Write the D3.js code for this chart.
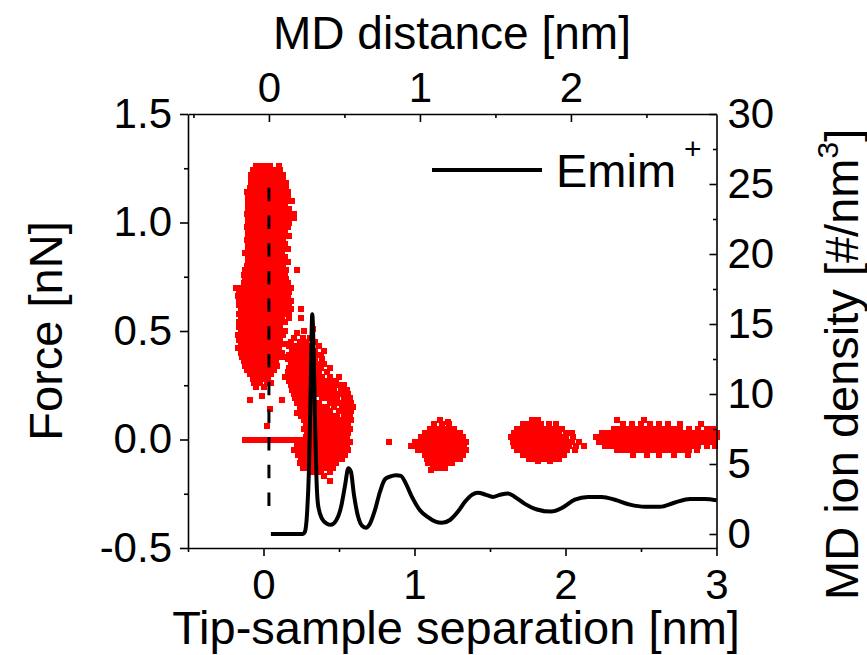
<!DOCTYPE html>
<html>
<head>
<meta charset="utf-8">
<script src="https://cdn.jsdelivr.net/npm/d3@7"></script>
<style>
  body { margin: 0; background: #fff; }
  svg { display: block; }
  text { font-family: "Liberation Sans", Arial, Helvetica, sans-serif; fill: #000; }
</style>
</head>
<body>
<svg id="chart" width="867" height="655"></svg>
<script>
// ---- AFM force curves: rows of [force (0.01 nN), "separations (0.01 nm)"] ----
const contactRows = [
  [126, "-5 -2 1 4 10"],
  [124, "-7 -4 -1 2 5 8 11"],
  [122, "-8 -5 -2 1 4 7 10 13"],
  [120, "-8 -5 -2 1 4 7 10 13"],
  [118, "-8 -5 -2 1 4 7 10 13 15"],
  [116, "-9 -6 -3 0 3 6 9 12 15"],
  [114, "-11 -8 -5 -2 1 4 7 10 13 16"],
  [112, "-10 -7 -4 -1 2 5 8 11 14 16"],
  [110, "-10 -7 -4 -1 2 5 8 11 14 17 19"],
  [108, "-10 -7 -4 -1 2 5 8 11 14"],
  [106, "-10 -7 -4 -1 2 5 8 11 14 17"],
  [104, "-11 -8 -5 -2 1 4 7 10 13 16 20"],
  [102, "-10 -7 -4 -1 2 5 8 11 14 17 20"],
  [100, "-10 -7 -4 -1 2 5 8 11 14 17"],
  [98, "-11 -8 -5 -2 1 4 7 10 13 16"],
  [96, "-10 -7 -4 -1 2 5 8 11 14"],
  [94, "-10 -7 -4 -1 2 5 8 11 14 17"],
  [92, "-11 -8 -5 -2 1 4 7 10 13"],
  [90, "-10 -7 -4 -1 2 5 8 11 14"],
  [88, "-10 -7 -4 -1 2 5 8 11 14 16"],
  [86, "-12 -9 -6 -3 0 3 6 9 12"],
  [84, "-10 -7 -4 -1 2 5 8 11 14"],
  [82, "-10 -7 -4 -1 2 5 8 11 14 16"],
  [80, "-11 -8 -5 -2 1 4 7 10 13"],
  [78, "-12 -9 -6 -3 0 3 6 9 12 15 22"],
  [76, "-13 -10 -7 -4 -1 2 5 8 11 14"],
  [74, "-12 -9 -6 -3 0 3 6 9 12 15"],
  [72, "-13 -10 -7 -4 -1 2 5 8 11 14 16"],
  [70, "-18 -15 -12 -9 -6 -3 0 3 6 9 12 15 18"],
  [68, "-16 -13 -10 -7 -4 -1 2 5 8 11 14 17"],
  [66, "-17 -14 -11 -8 -5 -2 1 4 7 10 13 16"],
  [64, "-16 -13 -10 -7 -4 -1 2 5 8 11 14 18"],
  [62, "-16 -13 -10 -7 -4 -1 2 5 8 11 14 17"],
  [60, "-15 -12 -9 -6 -3 0 3 6 9 12 15 18 25"],
  [58, "-16 -13 -10 -7 -4 -1 2 5 8 11 14 17"],
  [56, "-15 -12 -9 -6 -3 0 3 6 9 12 17 25"],
  [54, "-16 -13 -10 -7 -4 -1 2 5 8 11 14"],
  [52, "-16 -13 -10 -7 -4 -1 2 5 8 11"],
  [50, "-15 -12 -9 -6 -3 0 3 6 9 12 14"],
  [48, "-17 -14 -11 -8 -5 -2 1 4 7 10 13"],
  [46, "-16 -13 -10 -7 -4 -1 2 5 8 11"],
  [44, "-15 -12 -9 -6 -3 0 3 6 9 12 14"],
  [42, "-17 -14 -11 -8 -5 -2 1 4 7 10"],
  [40, "-15 -12 -9 -6 -3 0 3 6 9 12"],
  [38, "-14 -11 -8 -5 -2 1 4 7 10 13"],
  [36, "-13 -10 -7 -4 -1 2 5 8"],
  [34, "-12 -9 -6 -3 0 3 6 9"],
  [32, "-11 -8 -5 -2 1 4 7"],
  [30, "-9 -6 -3 1 5"],
  [28, "-7 -4 -1 3"],
  [26, "-6 -2 2 5"],
  [24, "-5 0"],
  [20, "-1"],
  [18, "-9 12"],
  [14, "4"],
  [12, "22"],
  [6, "2"]
];

const firstLayerRows = [
  [51, "33"], [50, "27"], [49, "22"],
  [47, "20 26 31"],
  [45, "18 24 28 34"],
  [43, "17 20 23 26 29 32 37"],
  [41, "19 22 25 28 31 34 40"],
  [39, "17 20 23 26 29 32 35 38"],
  [37, "16 19 22 25 28 31 34 39"],
  [35, "18 21 24 27 30 33 36 40"],
  [33, "17 20 23 26 29 32 35 38 44"],
  [31, "16 19 22 25 28 31 34 37 42"],
  [29, "14 18 21 24 27 30 33 36 39 44 50"],
  [27, "17 20 23 26 29 32 35 38 41 45 48"],
  [25, "18 21 24 27 30 33 36 39 42 46 50 53"],
  [23, "19 22 25 28 31 34 37 40 43 47 51 55"],
  [21, "20 23 26 29 32 35 38 41 44 48 52 56"],
  [19, "21 24 27 30 33 39 42 45 49 53 57"],
  [17, "22 25 28 31 34 37 44 48 51 55 58"],
  [15, "24 27 30 33 36 39 42 47 52 56 59"],
  [13, "26 29 32 35 38 41 44 50 54 58"],
  [11, "25 28 31 34 37 40 43 46 49 53 57"],
  [9, "27 30 33 36 39 42 45 48 51 55 58"],
  [7, "28 31 34 37 40 43 46 49 52 56"],
  [5, "27 30 33 36 39 42 45 48 51 54 57"],
  [3, "29 32 35 38 41 44 47 50 53 56"],
  [1, "28 31 34 37 40 43 46 49 52 55"],
  [-1, "24 27 30 33 36 39 42 45 48 51 54 57 83"],
  [-3, "22 25 28 31 34 37 40 43 46 49 52 55"],
  [-5, "20 23 26 29 32 35 38 41 44 47 50 53 56"],
  [-7, "23 26 29 32 35 38 41 44 47 50 54"],
  [-9, "25 28 31 34 37 40 43 46 49 52"],
  [-11, "24 27 30 33 36 39 42 45 48"],
  [-13, "26 30 34 38 42 46"],
  [-15, "32 38 44"],
  [-17, "40"],
  [-19, "44"]
];

const jumpRows = [
  [0, "-12 -10 -8 -6 -4 -2 0 2 4 6 8 10 12 14 16 18 20 22 24 26"]
];

const secondLayerRows = [
  [9, "117"], [8, "122"],
  [7, "113 118 123"],
  [5, "110 114 118 122 126"],
  [3, "107 111 115 119 123 127 130"],
  [1, "104 108 112 116 120 124 128 132"],
  [-1, "100 104 107 110 113 116 119 122 125 128 131 134"],
  [-3, "98 101 105 108 111 114 117 120 123 126 129 133"],
  [-5, "102 106 109 112 115 118 121 124 127 130 134"],
  [-7, "107 110 113 116 119 122 125 128 132"],
  [-9, "108 111 114 117 120 123 126 130"],
  [-11, "109 112 115 118 121 125"],
  [-13, "112 116 120"],
  [-14, "111"]
];

const thirdLayerRows = [
  [9, "178 182"],
  [7, "172 176 180 184 189 194"],
  [5, "168 172 175 178 181 184 187 190 194 198"],
  [3, "166 169 172 175 178 181 184 187 190 193 196 200 204"],
  [1, "164 167 170 173 176 179 182 185 188 191 194 197 200 205"],
  [-1, "165 168 171 174 177 180 183 186 189 192 195 198 201 204 209"],
  [-3, "166 169 172 175 178 181 184 187 190 193 196 199 202 207 212"],
  [-5, "168 171 174 177 180 183 186 189 192 195 198 201 206"],
  [-7, "172 175 178 181 184 187 190 193 196 199"],
  [-9, "176 180 184 188 192 196"],
  [-10, "182 190"]
];

const fourthLayerRows = [
  [9, "234 252"],
  [7, "238 244 250 256 262 268 276 290"],
  [5, "232 236 240 244 248 252 256 260 264 268 272 276 282 288 294 298"],
  [3, "224 228 231 234 237 240 243 246 249 252 255 258 261 264 267 270 273 276 279 282 285 288 291 294 297 300"],
  [1, "220 224 228 231 234 237 240 243 246 249 252 255 258 261 264 267 270 273 276 279 282 285 288 291 294 297 300"],
  [-1, "222 226 230 233 236 239 242 245 248 251 254 257 260 263 266 269 272 275 278 281 284 287 290 293 296 299"],
  [-3, "226 230 234 238 241 244 247 250 253 256 259 262 265 268 271 274 277 280 284 288 294 299"],
  [-5, "234 238 242 246 250 254 258 262 266 270 274 278 282 287"],
  [-7, "245 254 262 272 281"]
];

// ---- MD Emim+ density profile ----
const mdDistance = [0.013, 0.225, 0.238, 0.252, 0.265, 0.275, 0.287, 0.295, 0.305, 0.315, 0.325,
  0.351, 0.384, 0.41, 0.444, 0.477, 0.503, 0.526, 0.543, 0.563, 0.589, 0.616, 0.642, 0.669,
  0.702, 0.735, 0.768, 0.801, 0.841, 0.874, 0.907, 0.947, 1.0, 1.053, 1.099, 1.146, 1.199,
  1.252, 1.298, 1.344, 1.384, 1.437, 1.483, 1.53, 1.583, 1.629, 1.695, 1.775, 1.868, 1.947,
  2.026, 2.113, 2.205, 2.291, 2.391, 2.49, 2.589, 2.689, 2.788, 2.887, 2.964];
const emimDensity = [0.0, 0.0, 0.15, 1.4, 4.6, 9.6, 15.7, 13.5, 8.2, 3.9, 2.1,
  1.1, 0.74, 0.66, 0.95, 1.9, 3.4, 4.7, 4.45, 2.8, 1.3, 0.6, 0.45, 0.74,
  1.7, 3.0, 3.9, 4.1, 4.2, 4.15, 3.6, 2.65, 1.7, 1.2, 0.9, 0.8, 1.0,
  1.6, 2.3, 2.8, 2.95, 2.8, 2.65, 2.8, 2.9, 2.65, 2.15, 1.75, 1.6, 1.9,
  2.45, 2.65, 2.65, 2.45, 2.1, 1.95, 1.95, 2.25, 2.5, 2.5, 2.4];

// MD surface position marked on the force axis
const mdSurface = { md: 0, forceFrom: 1.16, forceTo: -0.31 };

// ---- axes ----
const sepDomain = [-0.5, 3];
const mdDomain = [-0.536, 2.964];
const forceDomain = [-0.5, 1.5];
const densityDomain = [-1, 30];
const sepTicks = [0, 1, 2, 3], sepMinor = [-0.5, 0.5, 1.5, 2.5];
const mdTicks = [0, 1, 2], mdMinor = [-0.5, 0.5, 1.5, 2.5];
const forceTicks = [-0.5, 0, 0.5, 1.0, 1.5], forceMinor = [-0.25, 0.25, 0.75, 1.25];
const densityTicks = [0, 5, 10, 15, 20, 25, 30], densityMinor = [2.5, 7.5, 12.5, 17.5, 22.5, 27.5];

const legendLabel = "Emim";

// ---- drawing ----
const svg = d3.select("#chart");
const frame = { left: 188, right: 716.5, top: 114, bottom: 548 };

const x = d3.scaleLinear().domain(sepDomain).range([frame.left, frame.right]);
const xTop = d3.scaleLinear().domain(mdDomain).range([frame.left, frame.right]);
const y = d3.scaleLinear().domain(forceDomain).range([frame.bottom, frame.top]);
const yR = d3.scaleLinear().domain(densityDomain).range([frame.bottom, frame.top]);

const toPoints = rows => rows.flatMap(([f, s]) =>
  s.trim().split(/\s+/).map(v => ({ sep: +v / 100, force: f / 100 })));
const afmPoints = [contactRows, firstLayerRows, jumpRows, secondLayerRows, thirdLayerRows, fourthLayerRows]
  .flatMap(toPoints);

const marker = 6;
svg.append("g").attr("shape-rendering", "crispEdges")
  .selectAll("rect").data(afmPoints).join("rect")
  .attr("x", d => Math.round(x(d.sep) - marker / 2))
  .attr("y", d => Math.round(y(d.force) - marker / 2))
  .attr("width", marker).attr("height", marker)
  .attr("fill", "#ff0000");

// dashed surface marker
svg.append("line")
  .attr("x1", xTop(mdSurface.md)).attr("x2", xTop(mdSurface.md))
  .attr("y1", y(mdSurface.forceFrom)).attr("y2", y(mdSurface.forceTo))
  .attr("stroke", "#000").attr("stroke-width", 3)
  .attr("stroke-dasharray", "13.5,14.2");

// density profile
const profile = mdDistance.map((m, i) => [m, emimDensity[i]]);
svg.append("path").datum(profile)
  .attr("fill", "none").attr("stroke", "#000").attr("stroke-width", 4)
  .attr("stroke-linejoin", "round")
  .attr("d", d3.line().x(d => xTop(d[0])).y(d => yR(d[1])).curve(d3.curveMonotoneX));

// axes
const tickFont = 42;
function styleAxis(g) {
  g.attr("font-family", null).attr("font-size", null);
  g.selectAll(".domain").attr("stroke-width", 1.6);
  g.selectAll(".tick line").attr("stroke-width", 1.6);
  g.selectAll(".tick text").style("font-size", tickFont + "px");
}
function addAxis(axisGen, scale, major, minor, size, pad, fmt, tx, ty) {
  const g = svg.append("g").attr("transform", `translate(${tx},${ty})`);
  g.call(axisGen(scale).tickValues(major).tickFormat(fmt)
    .tickSizeInner(size).tickSizeOuter(0).tickPadding(pad));
  g.call(styleAxis);
  const gm = svg.append("g").attr("transform", `translate(${tx},${ty})`);
  gm.call(axisGen(scale).tickValues(minor).tickFormat("").tickSizeInner(size / 2).tickSizeOuter(0));
  gm.select(".domain").remove();
  gm.call(styleAxis);
}
addAxis(d3.axisBottom, x, sepTicks, sepMinor, 8, 13, d3.format("d"), 0, frame.bottom);
addAxis(d3.axisTop, xTop, mdTicks, mdMinor, -8, 12, d3.format("d"), 0, frame.top);
addAxis(d3.axisLeft, y, forceTicks, forceMinor, 8, 8, d => d.toFixed(1), frame.left, 0);
addAxis(d3.axisRight, yR, densityTicks, densityMinor, -7, 11, d3.format("d"), frame.right, 0);

// axis titles
const titleFont = 47;
svg.append("text").attr("x", 456).attr("y", 644).attr("text-anchor", "middle")
  .style("font-size", titleFont + "px").text("Tip-sample separation [nm]");
svg.append("text").attr("x", 452).attr("y", 49).attr("text-anchor", "middle")
  .style("font-size", "46px").text("MD distance [nm]");
svg.append("text").attr("transform", "translate(62,331) rotate(-90)").attr("text-anchor", "middle")
  .style("font-size", titleFont + "px").text("Force [nN]");
const rt = svg.append("text").attr("transform", "translate(858,600) rotate(-90)")
  .attr("text-anchor", "start").style("font-size", titleFont + "px");
rt.append("tspan").text("MD ion density [#/nm");
rt.append("tspan").attr("dy", -20).style("font-size", "30px").text("3");
rt.append("tspan").attr("dy", 20).text("]");

// legend
svg.append("line").attr("x1", 432).attr("x2", 542).attr("y1", 170).attr("y2", 170)
  .attr("stroke", "#000").attr("stroke-width", 4);
const lt = svg.append("text").attr("x", 556).attr("y", 187).style("font-size", "47px");
lt.append("tspan").text(legendLabel);
lt.append("tspan").attr("dx", 8).attr("dy", -28).style("font-size", "30px").text("+");
</script>
</body>
</html>
